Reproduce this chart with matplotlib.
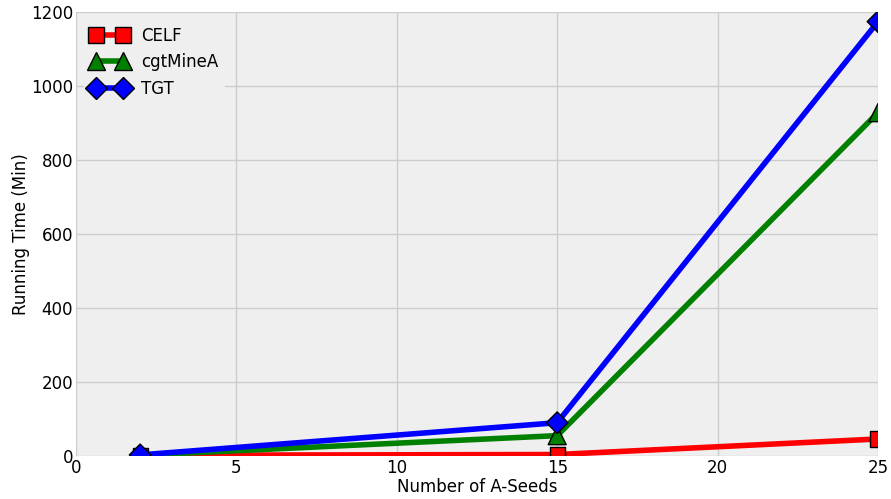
import matplotlib
matplotlib.use("Agg")
import matplotlib.pyplot as plt
from matplotlib.lines import Line2D

plt.rcParams['font.family'] = ['DejaVu Sans']

seeds = [2, 15, 25]
celf = [2, 4, 46]
cgtminea = [2, 55, 928]
tgt = [3, 90, 1174]

series = [
    ("CELF", celf, "red", "s", 11),
    ("cgtMineA", cgtminea, "green", "^", 13),
    ("TGT", tgt, "blue", "D", 11),
]

fig = plt.figure(figsize=(8.91, 4.99), dpi=100)
ax = fig.add_axes([76/891, 1-456/499, (878-76)/891, (456-12)/499])
ax.set_facecolor("#efefef")
for s in ax.spines.values():
    s.set_visible(False)

handles = []
for i, (name, vals, col, mk, ms) in enumerate(series):
    ax.plot(seeds, vals, color=col, lw=4, zorder=3 + 2 * i)
    n = len(seeds)
    # per-point colours so the markers are clipped at the axes edge
    ax.scatter(seeds, vals, s=[ms ** 2 + 0.01 * k for k in range(n)], marker=mk,
               facecolor=[col] * n, edgecolor=["black"] * n,
               linewidths=1, zorder=4 + 2 * i)
    handles.append(Line2D([], [], color=col, lw=4, marker=mk, ms=ms, mec="black", mew=1,
                          label=name))

ax.set_xlim(0, 25)
ax.set_ylim(0, 1200)
ax.set_xticks([0, 5, 10, 15, 20, 25])
ax.set_yticks([0, 200, 400, 600, 800, 1000, 1200])
ax.grid(True, color="#cccccc", lw=1)
ax.set_axisbelow(True)
ax.tick_params(labelsize=12, length=0, pad=2)
ax.set_xlabel("Number of A-Seeds", fontsize=12, labelpad=1)
ax.set_ylabel("Running Time (Min)", fontsize=12, labelpad=0.5)

leg = ax.legend(handles=handles, loc="upper left", fontsize=12, frameon=True,
                facecolor="#efefef", edgecolor="none", framealpha=1, numpoints=2,
                handlelength=2.2)
leg.set_zorder(20)

fig.savefig("out.png", dpi=100)
